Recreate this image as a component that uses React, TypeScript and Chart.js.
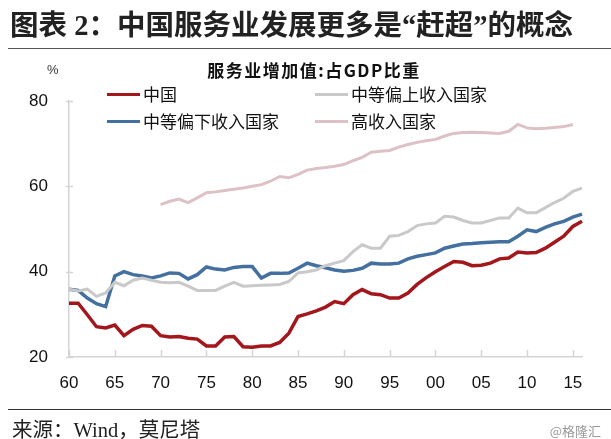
import React, { useEffect, useRef } from "react";
import { Chart, registerables } from "chart.js";

Chart.register(...registerables);

const years = [
  "1960", "1961", "1962", "1963", "1964", "1965", "1966", "1967", "1968", "1969",
  "1970", "1971", "1972", "1973", "1974", "1975", "1976", "1977", "1978", "1979",
  "1980", "1981", "1982", "1983", "1984", "1985", "1986", "1987", "1988", "1989",
  "1990", "1991", "1992", "1993", "1994", "1995", "1996", "1997", "1998", "1999",
  "2000", "2001", "2002", "2003", "2004", "2005", "2006", "2007", "2008", "2009",
  "2010", "2011", "2012", "2013", "2014", "2015", "2016",
];

const china = [
  32.6, 32.6, 29.9, 27.1, 26.8, 27.5, 25.0, 26.5, 27.4, 27.2,
  25.0, 24.7, 24.8, 24.4, 24.2, 22.6, 22.6, 24.7, 24.8, 22.4,
  22.3, 22.6, 22.6, 23.4, 25.6, 29.5, 30.1, 30.8, 31.7, 33.0,
  32.5, 34.6, 35.8, 34.8, 34.6, 33.8, 33.8, 35.0, 37.0, 38.6,
  40.0, 41.2, 42.4, 42.2, 41.4, 41.5, 42.0, 43.0, 43.2, 44.6,
  44.4, 44.5, 45.5, 46.9, 48.3, 50.6, 51.8,
];

const upperMiddle = [
  35.9, 35.5, 35.9, 34.2, 35.0, 37.5, 36.7, 38.0, 38.5, 38.0,
  37.5, 37.4, 37.5, 36.6, 35.6, 35.6, 35.6, 36.6, 37.5, 36.6,
  36.7, 36.8, 36.9, 37.0, 37.7, 39.7, 40.0, 40.4, 41.4, 42.0,
  42.6, 44.7, 46.3, 45.5, 45.5, 48.3, 48.5, 49.4, 50.8, 51.2,
  51.4, 53.0, 52.8, 52.0, 51.4, 51.4, 52.0, 52.6, 52.6, 54.9,
  53.8, 53.8, 55.0, 56.2, 57.2, 58.8, 59.6,
];

const lowerMiddle = [
  35.9, 35.6, 33.8, 32.5, 31.8, 39.0, 40.0, 39.3, 39.0, 38.5,
  39.0, 39.7, 39.6, 38.3, 39.3, 41.1, 40.6, 40.4, 41.0, 41.2,
  41.2, 38.5, 39.6, 39.6, 39.7, 40.8, 42.0, 41.4, 40.9, 40.4,
  40.1, 40.3, 40.8, 42.0, 41.8, 41.8, 42.0, 43.0, 43.6, 44.0,
  44.4, 45.5, 46.0, 46.5, 46.6, 46.8, 46.9, 47.0, 47.0, 48.3,
  49.8, 49.4, 50.4, 51.2, 51.8, 52.8, 53.5,
];

const highIncome = [
  null, null, null, null, null, null, null, null, null, null,
  55.7, 56.5, 57.0, 56.2, 57.3, 58.5, 58.7, 59.0, 59.3, 59.6,
  60.0, 60.4, 61.2, 62.3, 62.0, 62.8, 63.8, 64.2, 64.4, 64.7,
  65.1, 66.0, 66.8, 68.0, 68.2, 68.4, 69.2, 69.8, 70.3, 70.7,
  71.0, 71.8, 72.4, 72.6, 72.7, 72.6, 72.5, 72.4, 72.9, 74.5,
  73.7, 73.5, 73.6, 73.8, 74.0, 74.5, null,
];

const yTicks = [20, 40, 60, 80];

const seriesNames = ["中国", "中等偏上收入国家", "中等偏下收入国家", "高收入国家"];
const colors = ["#a3161c", "#c9c9c9", "#44709f", "#dcc1c5"];

const AXIS = "#d4d4d4";
const SANS = "'Liberation Sans', Arial, sans-serif";
const CJK = "'Noto Sans CJK SC', sans-serif";

const tickMarks = {
  id: "tickMarks",
  afterDraw(chart: any) {
    const { ctx, chartArea } = chart;
    const xs = chart.scales.x;
    const ys = chart.scales.y;
    ctx.save();
    ctx.strokeStyle = AXIS;
    ctx.lineWidth = 1.5;
    xs.ticks.forEach((t: any, i: number) => {
      if (t.label === null || t.label === undefined || t.label === "") return;
      const px = Math.round(xs.getPixelForTick(i)) + 0.5;
      ctx.beginPath();
      ctx.moveTo(px, chartArea.bottom);
      ctx.lineTo(px, chartArea.bottom - 7);
      ctx.stroke();
    });
    ys.ticks.forEach((t: any, i: number) => {
      const py = Math.round(ys.getPixelForTick(i)) + 0.5;
      ctx.beginPath();
      ctx.moveTo(chartArea.left - 3, py);
      ctx.lineTo(chartArea.left + 4, py);
      ctx.stroke();
    });
    ctx.restore();
  },
};

function LineChart() {
  const ref = useRef<HTMLCanvasElement | null>(null);
  useEffect(() => {
    if (!ref.current) return;
    const series = [china, upperMiddle, lowerMiddle, highIncome];
    const widths = [3.5, 3, 3.5, 3];
    const chart = new Chart(ref.current, {
      type: "line",
      data: {
        labels: years,
        datasets: series.map((d, i) => ({
          label: seriesNames[i],
          data: d,
          borderColor: colors[i],
          backgroundColor: colors[i],
          borderWidth: widths[i],
          pointRadius: 0,
          tension: 0,
          fill: false,
          spanGaps: false,
          clip: false as any,
        })),
      },
      options: {
        responsive: false,
        animation: false,
        devicePixelRatio: 1,
        layout: { padding: { left: 29, right: 29, top: 101, bottom: 42 } },
        plugins: {
          legend: { display: false },
          title: { display: false },
          tooltip: { enabled: false },
        },
        scales: {
          x: {
            type: "category",
            offset: false,
            grid: { display: false, drawTicks: false },
            border: { display: true, color: AXIS, width: 1.5 },
            ticks: {
              autoSkip: false,
              maxRotation: 0,
              padding: 16,
              color: "#111",
              font: { family: SANS, size: 17 },
              callback: (_v: any, i: number) =>
                Number(years[i]) % 5 === 0 ? years[i].slice(2) : null,
            },
            afterFit: (s: any) => {
              s.height = 40;
            },
          },
          y: {
            min: 20,
            max: 80,
            afterBuildTicks: (s: any) => {
              s.ticks = yTicks.map((v) => ({ value: v }));
            },
            grid: { display: false, drawTicks: false },
            border: { display: true, color: AXIS, width: 1.5 },
            ticks: {
              padding: 21,
              color: "#111",
              font: { family: SANS, size: 17 },
            },
            afterFit: (s: any) => {
              s.width = 40;
            },
          },
        },
      },
      plugins: [tickMarks],
    });
    return () => chart.destroy();
  }, []);
  return (
    <canvas
      ref={ref}
      width={611}
      height={439}
      style={{ position: "absolute", left: 0, top: 0, width: 611, height: 439 }}
    />
  );
}

const abs = (o: any) => ({ position: "absolute" as const, whiteSpace: "nowrap" as const, lineHeight: 1, ...o });

export default function App() {
  const legend = [
    { i: 0, left: 107, top: 94 },
    { i: 1, left: 315, top: 94 },
    { i: 2, left: 107, top: 121 },
    { i: 3, left: 315, top: 121 },
  ];
  return (
    <div style={{ position: "absolute", left: 0, top: 0, width: 611, height: 439, background: "#fff", overflow: "hidden" }}>
      <LineChart />
      <div style={abs({ left: 10, top: 12, fontSize: 28.5, fontWeight: 700, fontFamily: "'Liberation Serif', " + CJK, color: "#222" })}>
        图表 2：中国服务业发展更多是“赶超”的概念
      </div>
      <div style={abs({ left: 8, top: 48, width: 603, height: 0, borderTop: "1.5px solid #555" })} />
      <div style={abs({ left: 47, top: 63, fontSize: 13, fontFamily: SANS, color: "#333" })}>%</div>
      <div style={abs({ left: 314, top: 61, transform: "translateX(-50%)", fontSize: 17, fontWeight: 700, fontFamily: CJK, color: "#111", letterSpacing: 1.5 })}>
        服务业增加值:占GDP比重
      </div>
      {legend.map((l) => (
        <React.Fragment key={l.i}>
          <div style={abs({ left: l.left, top: l.top - 1.5, width: 33, height: 3, background: colors[l.i] })} />
          <div style={abs({ left: l.left + 36, top: l.top - 9.5, fontSize: 17, fontFamily: CJK, color: "#111" })}>
            {seriesNames[l.i]}
          </div>
        </React.Fragment>
      ))}
      <div style={abs({ left: 8, top: 409, width: 603, height: 0, borderTop: "1.5px solid #333" })} />
      <div style={abs({ left: 12, top: 420, fontSize: 20.5, fontFamily: "'Liberation Serif', " + CJK, color: "#222" })}>
        来源：Wind，莫尼塔
      </div>
      <div style={abs({ right: 10, top: 424, fontSize: 13, fontFamily: CJK, color: "#999" })}>@格隆汇</div>
    </div>
  );
}
